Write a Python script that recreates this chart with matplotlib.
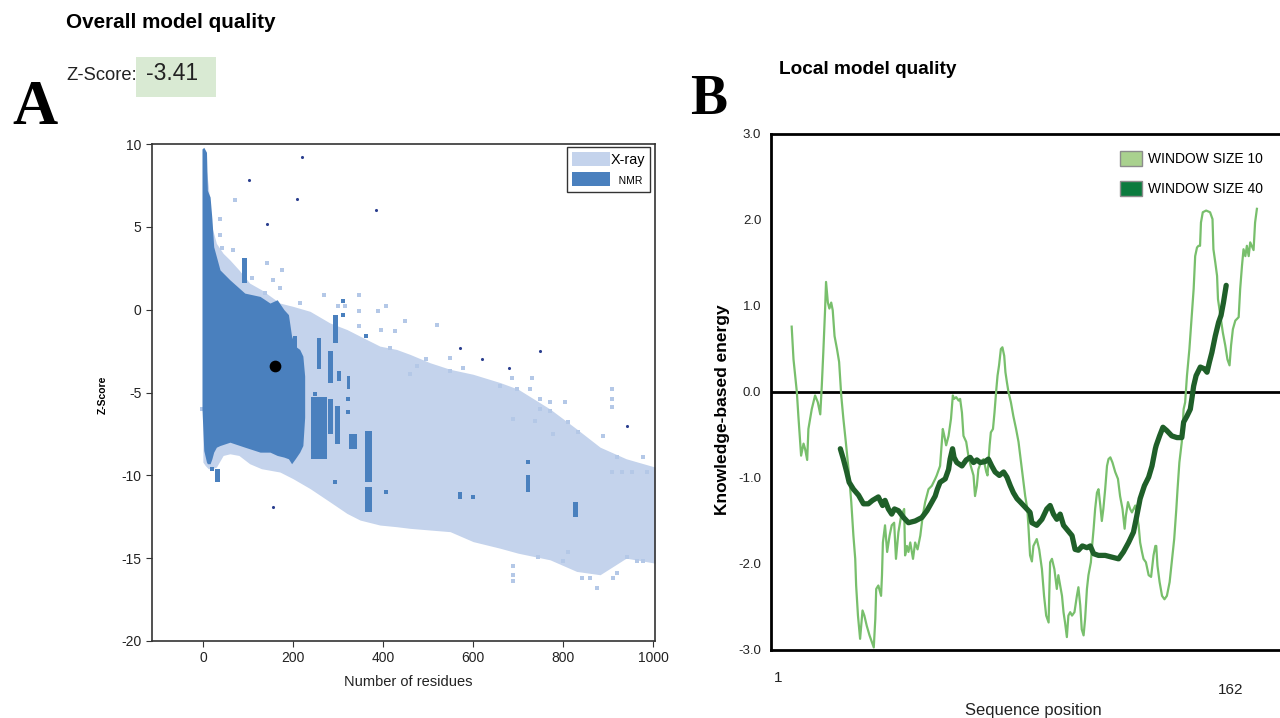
#!/usr/bin/env python
# -*- coding: utf-8 -*-
"""Model quality figure: (A) overall Z-score vs. size, (B) local energy profile
"""

import matplotlib
matplotlib.use("Agg")
import matplotlib.pyplot as plt
from matplotlib.patches import Patch, Rectangle

plt.rcParams['font.family'] = ['Liberation Sans', 'DejaVu Sans']
plt.rcParams['axes.unicode_minus'] = False

# ---------------- Panel A: Z-score of solved structures ----------------
model_size = 160
model_zscore = -3.41

# X-ray cloud envelope (number of residues, upper / lower Z-score)
xray_res = [0, 5, 12, 20, 30, 45, 60, 80, 104, 130, 171, 200, 238, 282, 320,
            349, 393, 430, 460, 504, 549, 600, 660, 700, 771, 830, 882, 940, 1004]
xray_hi = [8.8, 9.0, 7.5, 5.0, 4.0, 3.4, 3.0, 2.4, 1.6, 1.2, 0.4, 0.2, -0.1, -0.8, -1.2,
           -1.6, -2.2, -2.4, -2.7, -3.2, -3.6, -3.9, -4.4, -4.8, -6.0, -7.2, -8.3, -9.0, -9.5]
xray_lo = [-9.2, -9.4, -9.6, -9.6, -9.5, -8.8, -8.7, -8.8, -9.3, -9.6, -9.8, -10.2, -10.8, -11.6, -12.3,
           -12.7, -13.0, -13.1, -13.2, -13.3, -13.4, -14.0, -14.4, -14.7, -15.1, -15.8, -16.0, -15.0, -15.3]

# scattered X-ray entries at the fringe of the cloud
xray_pt_res = [38, 38, 42, 67, 71, 108, 138, 142, 156, 171, 175, 216, 269, 300, 316, 347, 347,
               347, 389, 396, 407, 416, 427, 449, 460, 475, 496, 520, 549, 549, 578, 660, 687,
               698, 727, 731, 738, 749, 749, 771, 771, 778, 804, 811, 833, 889, 909, 909, 909,
               920, 978, 909, 931, 953, 987, 689, 689, 689, 744, 800, 811, 842, 860, 875, 911,
               920, 942, 964, 978, 689, -2]
xray_pt_z = [5.5, 4.5, 3.7, 3.6, 6.6, 1.9, 1.0, 2.8, 1.8, 1.3, 2.4, 0.4, 0.9, 0.2, 0.2, 0.9, -0.1,
             -1.0, -0.1, -1.2, 0.2, -2.3, -1.3, -0.7, -3.9, -3.4, -3.0, -0.9, -2.9, -3.7, -3.5, -4.6,
             -4.1, -4.8, -4.8, -4.1, -6.7, -5.4, -6.0, -5.6, -6.1, -7.5, -5.6, -6.8, -7.4, -7.6,
             -4.8, -5.4, -5.9, -8.9, -8.9, -9.8, -9.8, -9.8, -9.8, -15.5, -16.0, -16.4, -14.9,
             -15.2, -14.6, -16.2, -16.2, -16.8, -16.2, -15.9, -14.9, -15.2, -15.2, -6.6, -6.0]

# NMR cloud envelope
nmr_res = [-2, 2, 8, 10, 16, 20, 24, 30, 38, 60, 93, 127, 149, 165, 180, 190, 197, 205, 215, 222, 226]
nmr_hi = [9.7, 9.8, 9.5, 7.2, 6.8, 5.5, 3.8, 3.2, 2.4, 1.8, 1.0, 0.8, 0.4, 0.6, 0.0, -0.3,
          -1.6, -2.2, -2.4, -2.8, -4.0]
nmr_lo = [-6.0, -8.5, -9.2, -9.3, -9.3, -9.0, -8.6, -8.3, -8.2, -8.0, -8.3, -8.6, -8.6, -8.8,
          -8.9, -9.0, -9.3, -9.0, -8.6, -8.2, -6.5]

# NMR streaks (centre residues, bottom, top, width)
nmr_bar_res = [92, 205, 258, 283, 294, 302, 323, 258, 283, 299, 333, 367, 367, 33, 722, 571, 827]
nmr_bar_lo = [1.6, -3.6, -3.6, -4.4, -2.0, -4.3, -4.8, -9.0, -7.5, -8.1, -8.4, -10.4, -12.2,
              -10.4, -11.0, -11.4, -12.5]
nmr_bar_hi = [3.1, -1.6, -1.7, -2.5, -0.3, -3.7, -4.0, -5.3, -5.4, -5.8, -7.5, -7.3, -10.7,
              -9.6, -10.0, -11.0, -11.6]
nmr_bar_w = [10, 10, 10, 10, 10, 8, 7, 34, 10, 12, 18, 16, 16, 10, 8, 10, 10]

nmr_pt_res = [311, 311, 362, 323, 323, 249, 20, 406, 600, 722, 293]
nmr_pt_z = [0.5, -0.3, -1.6, -5.4, -6.2, -5.1, -9.6, -11.0, -11.3, -9.2, -10.4]

# isolated outliers
out_res = [220, 102, 208, 385, 156, 942, 571, 620, 749, 680, 143]
out_z = [9.2, 7.8, 6.7, 6.0, -11.9, -7.0, -2.3, -3.0, -2.5, -3.5, 5.2]

# ---------------- Panel B: local knowledge-based energy ----------------
w10_pos = [4.8, 5.4, 6.5, 7.0, 7.6, 7.9, 8.7, 9.2, 9.9, 10.3, 11.4, 12.5, 13.4, 14.2, 14.7,
           15.2, 15.8, 16.1, 16.7, 17.2, 17.8, 18.3, 18.9, 19.7, 20.4, 21.1, 21.8, 22.6, 23.5,
           24.4, 25.1, 25.7, 26.0, 26.6, 27.3, 28.1, 28.7, 29.5, 30.4, 31.2, 31.8, 32.3, 32.6,
           33.3, 34.2, 34.5, 34.8, 35.5, 36.2, 37.0, 37.7, 38.5, 39.1, 39.9, 40.8, 41.8, 42.1,
           42.7, 43.2, 43.8, 44.7, 45.4, 46.2, 47.1, 47.9, 48.7, 49.8, 50.9, 52.0, 52.5, 53.6,
           54.2, 54.5, 55.0, 55.6, 56.4, 57.2, 57.8, 58.2, 58.9, 59.7, 60.2, 60.8, 61.3, 62.2,
           62.9, 63.7, 64.6, 65.1, 65.7, 66.2, 67.0, 67.9, 68.8, 69.2, 69.9, 70.3, 71.0, 71.5,
           72.1, 72.5, 73.0, 73.6, 74.1, 74.7, 75.1, 75.6, 76.1, 76.9, 77.7, 78.6, 79.4, 80.5,
           81.6, 82.3, 82.7, 83.2, 83.8, 84.3, 85.4, 86.2, 87.1, 87.8, 88.5, 89.3, 89.5, 89.8,
           90.4, 91.2, 92.0, 92.5, 93.1, 93.7, 94.2, 94.7, 95.3, 95.8, 96.4, 97.0, 97.8, 98.6,
           99.1, 99.7, 100.2, 100.8, 101.3, 101.9, 102.4, 103.2, 103.5, 104.1, 104.6, 105.2,
           105.7, 106.3, 106.8, 107.3, 107.9, 108.5, 109.0, 109.6, 110.3, 111.2, 112.1, 112.8,
           113.6, 114.3, 114.7, 115.4, 116.1, 116.7, 117.8, 118.9, 119.4, 120.0, 120.5, 121.3,
           122.2, 123.0, 123.8, 124.4, 124.7, 125.1, 125.8, 126.6, 127.4, 128.2, 129.1, 129.8,
           130.6, 131.3, 131.7, 132.3, 133.1, 133.7, 134.2, 134.8, 135.6, 136.4, 137.0, 137.5,
           138.1, 138.6, 139.1, 139.4, 140.0, 141.1, 142.4, 143.2, 143.5, 144.1, 144.7, 145.0,
           146.1, 146.6, 147.4, 148.1, 148.8, 149.3, 149.9, 150.7, 151.8, 152.3, 152.9, 153.4,
           154.0, 154.5, 155.1, 155.6, 156.7, 157.2, 157.8]
w10_energy = [0.76, 0.38, 0.0, -0.28, -0.58, -0.74, -0.60, -0.66, -0.79, -0.43, -0.20, -0.04,
              -0.12, -0.26, 0.07, 0.46, 0.97, 1.28, 1.04, 0.97, 1.04, 0.95, 0.65, 0.50, 0.35,
              -0.04, -0.31, -0.58, -0.90, -1.28, -1.67, -1.94, -2.25, -2.60, -2.87, -2.54, -2.60,
              -2.72, -2.83, -2.91, -2.97, -2.64, -2.29, -2.25, -2.37, -2.13, -1.75, -1.55, -1.86,
              -1.67, -1.55, -1.52, -1.94, -1.63, -1.44, -1.36, -1.90, -1.79, -1.86, -1.75, -1.94,
              -1.75, -1.83, -1.67, -1.44, -1.28, -1.13, -1.09, -1.01, -0.97, -0.86, -0.58, -0.43,
              -0.51, -0.62, -0.51, -0.31, -0.04, -0.08, -0.06, -0.10, -0.08, -0.24, -0.51, -0.58,
              -0.74, -0.86, -0.97, -1.21, -1.09, -0.90, -0.82, -0.78, -0.93, -0.97, -0.62, -0.47,
              -0.43, -0.24, 0.03, 0.19, 0.31, 0.50, 0.52, 0.42, 0.23, 0.11, 0.0, -0.12, -0.28,
              -0.43, -0.58, -0.90, -1.21, -1.36, -1.59, -1.90, -1.97, -1.79, -1.71, -1.83, -2.06,
              -2.37, -2.60, -2.68, -2.37, -1.98, -1.94, -2.06, -2.29, -2.13, -2.25, -2.37, -2.56,
              -2.68, -2.85, -2.60, -2.56, -2.60, -2.56, -2.37, -2.27, -2.48, -2.76, -2.83, -2.64,
              -2.29, -2.13, -1.98, -1.83, -1.59, -1.36, -1.17, -1.13, -1.32, -1.50, -1.36, -1.13,
              -0.86, -0.78, -0.76, -0.82, -0.93, -1.01, -1.21, -1.36, -1.59, -1.44, -1.28, -1.36,
              -1.40, -1.32, -1.55, -1.75, -1.86, -1.94, -1.98, -2.13, -2.15, -1.90, -1.79, -1.79,
              -2.02, -2.21, -2.37, -2.41, -2.37, -2.21, -1.98, -1.71, -1.36, -1.13, -0.82, -0.58,
              -0.20, -0.12, 0.19, 0.50, 0.89, 1.20, 1.58, 1.68, 1.70, 1.70, 1.97, 2.09, 2.11,
              2.09, 2.01, 1.66, 1.51, 1.35, 1.08, 0.81, 0.69, 0.54, 0.38, 0.31, 0.54, 0.73, 0.83,
              0.87, 1.20, 1.47, 1.66, 1.58, 1.70, 1.58, 1.74, 1.65, 1.97, 2.13]

w40_pos = [20.8, 21.8, 22.9, 23.7, 25.1, 26.8, 28.4, 30.0, 31.4, 33.3, 34.7, 35.5, 36.6, 37.7,
           38.6, 39.9, 41.6, 43.2, 45.4, 47.6, 49.3, 50.9, 52.0, 52.7, 53.6, 55.3, 56.4, 56.9,
           57.7, 58.2, 59.1, 60.8, 62.2, 63.5, 64.6, 65.7, 66.8, 68.4, 69.5, 70.6, 71.7, 73.1,
           74.5, 75.6, 76.7, 77.7, 78.9, 80.0, 81.6, 83.2, 83.8, 85.4, 87.1, 88.7, 89.8, 90.9,
           92.0, 93.1, 94.2, 95.6, 97.0, 98.0, 99.1, 100.4, 101.9, 103.0, 104.1, 105.7, 107.9,
           110.1, 112.3, 113.9, 115.6, 117.2, 118.3, 119.4, 120.8, 122.2, 123.3, 124.4, 124.7,
           125.8, 126.9, 128.2, 129.8, 131.5, 133.1, 133.7, 134.8, 135.9, 136.4, 137.0, 137.8,
           139.2, 140.5, 141.4, 142.2, 143.0, 144.1, 145.2, 146.0, 146.8, 147.7]
w40_energy = [-0.66, -0.78, -0.93, -1.05, -1.13, -1.20, -1.30, -1.30, -1.26, -1.22, -1.32, -1.26,
              -1.36, -1.42, -1.36, -1.38, -1.46, -1.52, -1.50, -1.46, -1.38, -1.28, -1.21, -1.13,
              -1.05, -1.01, -0.90, -0.78, -0.66, -0.76, -0.82, -0.86, -0.79, -0.76, -0.82, -0.79,
              -0.82, -0.81, -0.78, -0.86, -0.93, -0.97, -0.93, -0.99, -1.09, -1.17, -1.24, -1.28,
              -1.34, -1.40, -1.52, -1.55, -1.48, -1.36, -1.32, -1.42, -1.48, -1.42, -1.55, -1.61,
              -1.67, -1.83, -1.84, -1.79, -1.81, -1.79, -1.88, -1.90, -1.90, -1.92, -1.94, -1.86,
              -1.75, -1.63, -1.44, -1.24, -1.09, -0.99, -0.86, -0.66, -0.62, -0.51, -0.41, -0.45,
              -0.51, -0.53, -0.53, -0.35, -0.28, -0.20, -0.08, 0.07, 0.19, 0.29, 0.27, 0.23, 0.35,
              0.46, 0.65, 0.81, 0.89, 1.04, 1.24]

energy_ticks = [3.0, 2.0, 1.0, 0.0, -1.0, -2.0, -3.0]

XRAY_C = '#c4d3ec'
XRAY_PT_C = '#b4c8e7'
NMR_C = '#4a80be'
W10_C = '#78bf6c'
W40_C = '#1f5f29'


def main():
    fig = plt.figure(figsize=(12.8, 7.18), dpi=100)

    # ---------------- Panel A ----------------
    ax = fig.add_axes([152 / 1280, 77 / 718, 503 / 1280, 497 / 718])
    ax.fill_between(xray_res, xray_lo, xray_hi, color=XRAY_C, lw=0, zorder=1)
    ax.scatter(xray_pt_res, xray_pt_z, marker='s', s=11, c=XRAY_PT_C, lw=0, zorder=1)
    ax.fill_between(nmr_res, nmr_lo, nmr_hi, color=NMR_C, lw=0, zorder=2)
    heights = [hi - lo for hi, lo in zip(nmr_bar_hi, nmr_bar_lo)]
    ax.bar(nmr_bar_res, heights, bottom=nmr_bar_lo, width=nmr_bar_w,
           color=NMR_C, lw=0, zorder=2)
    ax.scatter(nmr_pt_res, nmr_pt_z, marker='s', s=12, c=NMR_C, lw=0, zorder=3)
    ax.scatter(out_res, out_z, marker='o', s=5, c='#2b3f8f', lw=0, zorder=3)
    ax.scatter([model_size], [model_zscore], s=55, c='black', zorder=5)

    ax.set_xlim(-113, 1004)
    ax.set_ylim(-20, 10)
    ax.set_xticks([0, 200, 400, 600, 800, 1000])
    ax.set_yticks([10, 5, 0, -5, -10, -15, -20])
    ax.tick_params(labelsize=10, length=4, color='#333333', labelcolor='#222222')
    for sp in ax.spines.values():
        sp.set_color('#333333')
        sp.set_linewidth(1.2)
    ax.set_xlabel('Number of residues', fontsize=10.5, color='#222222')
    ax.xaxis.set_label_coords(0.509, -0.068)
    ax.set_ylabel('Z-Score', fontsize=7.5, fontweight='bold')
    ax.yaxis.set_label_coords(-0.087, 0.495)

    handles = [Patch(facecolor=XRAY_C, edgecolor='none', label='X-ray'),
               Patch(facecolor=NMR_C, edgecolor='none', label='   NMR')]
    leg = ax.legend(handles=handles, loc='upper right', bbox_to_anchor=(0.99, 0.994),
                    borderaxespad=0, fontsize=10.4, fancybox=False, edgecolor='#333333',
                    framealpha=1, handlelength=2.6, handleheight=1.15, handletextpad=0.05,
                    borderpad=0.35, labelspacing=0.35)
    leg.get_frame().set_linewidth(1.0)
    leg.get_texts()[1].set_fontsize(7.5)

    fig.text(66 / 1280, 1 - 22 / 718, 'Overall model quality', fontsize=14.9,
             fontweight='bold', va='center')
    fig.text(66 / 1280, 1 - 75 / 718, 'Z-Score:', fontsize=13.2, va='center', color='#222222')
    fig.patches.append(Rectangle((136 / 1280, 1 - 97 / 718), 80 / 1280, 40 / 718,
                                 transform=fig.transFigure, facecolor='#d9ead3',
                                 edgecolor='none', zorder=0))
    fig.text(146 / 1280, 1 - 73 / 718, '%.2f' % model_zscore, fontsize=16.5,
             va='center', color='#222222')
    fig.text(12 / 1280, 1 - 124 / 718, 'A', fontsize=45, fontweight='bold',
             family='Liberation Serif', va='baseline')

    # ---------------- Panel B ----------------
    bx = fig.add_axes([771 / 1280, 68 / 718, 523 / 1280, 516 / 718])
    bx.axhline(0, color='black', lw=2, zorder=1)
    bx.plot(w10_pos, w10_energy, color=W10_C, lw=1.6, zorder=2)
    bx.plot(w40_pos, w40_energy, color=W40_C, lw=3.8, solid_capstyle='round', zorder=3)

    bx.set_xlim(-2, 170)
    bx.set_ylim(-3, 3)
    bx.set_xticks([])
    bx.set_yticks(energy_ticks)
    bx.set_yticklabels(['%.1f' % t for t in energy_ticks])
    bx.tick_params(axis='y', length=0, pad=7, labelsize=9.5, labelcolor='#222222')
    for sp in bx.spines.values():
        sp.set_color('black')
        sp.set_linewidth(2)
    bx.set_ylabel('Knowledge-based energy', fontsize=12.5, fontweight='bold')
    bx.yaxis.set_label_coords(-0.079, 0.465)
    bx.set_xlabel('Sequence position', fontsize=11.9, color='#222222')
    bx.xaxis.set_label_coords(0.501, -0.102)
    bx.text(0.0134, -0.054, '1', transform=bx.transAxes, ha='center', va='center',
            fontsize=11, color='#222222')
    bx.text(0.8795, -0.0775, '162', transform=bx.transAxes, ha='center', va='center',
            fontsize=11, color='#222222')

    handles = [Patch(facecolor='#a9d18e', edgecolor='#8c8c8c', lw=1, label='WINDOW SIZE 10'),
               Patch(facecolor='#0b7b3e', edgecolor='#8c8c8c', lw=1, label='WINDOW SIZE 40')]
    bx.legend(handles=handles, loc='upper left', bbox_to_anchor=(0.667, 0.967),
              borderaxespad=0, borderpad=0, frameon=False, fontsize=10,
              handlelength=1.6, handleheight=1.3, handletextpad=0.45, labelspacing=1.05)

    fig.text(779 / 1280, 1 - 70 / 718, 'Local model quality', fontsize=13.7,
             fontweight='bold', va='center')
    fig.text(690 / 1280, 1 - 114 / 718, 'B', fontsize=40, fontweight='bold',
             family='Liberation Serif', va='baseline')

    fig.savefig('out.png', dpi=100)


if __name__ == "__main__":
    main()
